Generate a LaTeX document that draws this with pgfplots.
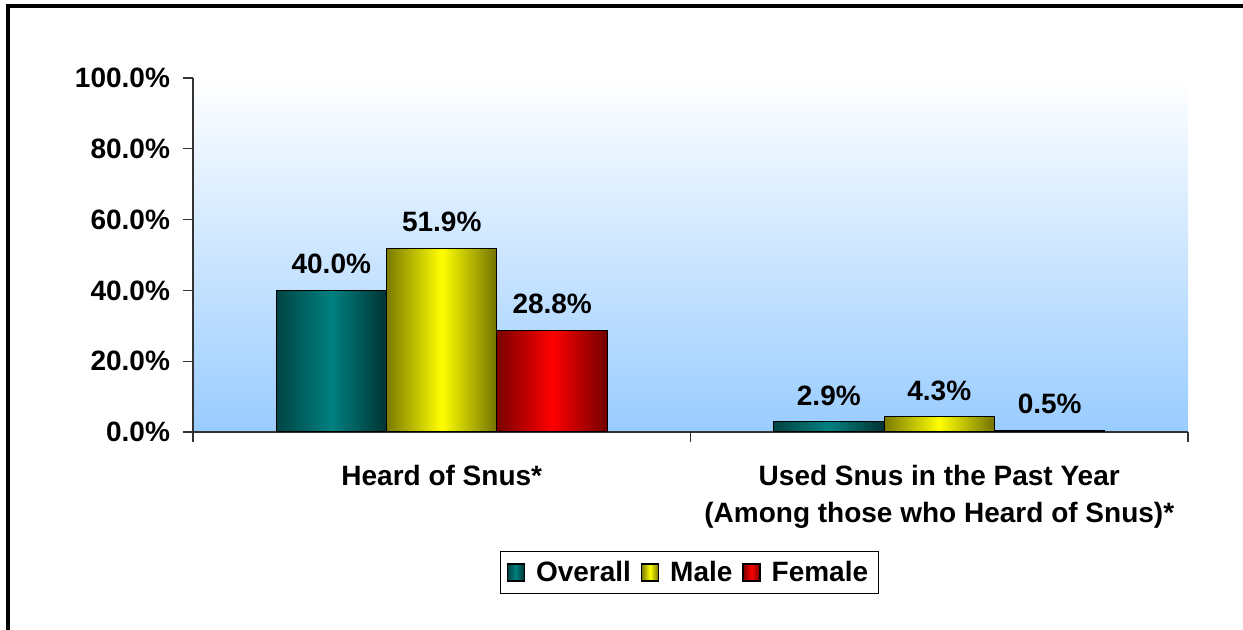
\documentclass[border=0pt]{standalone}
\usepackage{pgfplots}
\pgfplotsset{compat=1.18}
\usepackage{fontspec}
\setmainfont{Liberation Sans}
\definecolor{tealA}{HTML}{004444}
\definecolor{tealB}{HTML}{008080}
\definecolor{tealC}{HTML}{003333}
\definecolor{yelA}{HTML}{7A7A00}
\definecolor{yelB}{HTML}{FFFF00}
\definecolor{yelC}{HTML}{727200}
\definecolor{redA}{HTML}{7A0000}
\definecolor{redB}{HTML}{FF0000}
\definecolor{redC}{HTML}{720000}
\definecolor{bgblue}{HTML}{99CCFF}
\begin{document}
\begin{tikzpicture}
\path[use as bounding box] (0,0) rectangle (621.5pt,315pt);
\draw[line width=2pt] (4pt,0) -- (4pt,312pt) -- (621.5pt,312pt);
\begin{axis}[
  at={(96.5pt,99pt)}, anchor=south west,
  scale only axis, width=497.5pt, height=177pt,
  xmin=0, xmax=2, ymin=0, ymax=100,
  axis x line*=bottom, axis y line*=left,
  axis line style={black!80, line width=0.6pt},
  tick align=outside, major tick length=5pt,
  tick style={black!80, line width=0.6pt},
  xtick={0,1,2}, x tick label as interval,
  xticklabels={Heard of Snus*, {Used Snus in the Past Year\\(Among those who Heard of Snus)*}},
  x tick label style={align=center, yshift=-8pt, font=\fontsize{14}{18.5}\selectfont\bfseries},
  ytick={0,20,40,60,80,100},
  yticklabels={0.0\%,20.0\%,40.0\%,60.0\%,80.0\%,100.0\%},
  y tick label style={xshift=-3pt},
  tick label style={font=\fontsize{14}{18.5}\selectfont\bfseries},
  axis background/.style={shade, top color=white, bottom color=bgblue},
  ybar, bar width=0.222,
  nodes near coords={\pgfmathprintnumber[fixed,fixed zerofill,precision=1]{\pgfplotspointmeta}\%},
  every node near coord/.append style={font=\fontsize{14}{17}\selectfont\bfseries, black, yshift=4.5pt},
  /pgf/number format/assume math mode=true,
  legend style={at={(0.499,-0.397)}, anchor=center, draw=black, line width=0.6pt,
    font=\fontsize{14}{17}\selectfont\bfseries, legend columns=-1,
    /tikz/every even column/.append style={column sep=3pt},
    /tikz/every odd column/.append style={column sep=3.5pt},
    inner xsep=3pt, inner ysep=2.5pt},
  tealbar/.style={bar shift=-0.222, draw=black, line width=0.5pt, left color=tealA, right color=tealC, middle color=tealB},
  yelbar/.style={bar shift=0, draw=black, line width=0.5pt, left color=yelA, right color=yelC, middle color=yelB},
  redbar/.style={bar shift=0.222, draw=black, line width=0.5pt, left color=redA, right color=redC, middle color=redB},
]
% Overall
\addplot[tealbar,
  legend image code/.code={\draw[fill=tealB, draw=black, line width=0.6pt] (0pt,-4.25pt) rectangle (8.5pt,4.25pt);}]
  coordinates {(0.5,40.0)};
\addlegendentry{Overall}
% Male
\addplot[yelbar,
  legend image code/.code={\draw[fill=yelB, draw=black, line width=0.6pt] (0pt,-4.25pt) rectangle (8.5pt,4.25pt);}]
  coordinates {(0.5,51.9)};
\addlegendentry{Male}
% Female
\addplot[redbar,
  legend image code/.code={\draw[fill=redB, draw=black, line width=0.6pt] (0pt,-4.25pt) rectangle (8.5pt,4.25pt);}]
  coordinates {(0.5,28.8)};
\addlegendentry{Female}
% second group
\addplot[tealbar, forget plot] coordinates {(1.5,2.9)};
\addplot[yelbar, forget plot] coordinates {(1.5,4.3)};
\addplot[redbar, forget plot] coordinates {(1.5,0.5)};
\end{axis}
\end{tikzpicture}
\end{document}
